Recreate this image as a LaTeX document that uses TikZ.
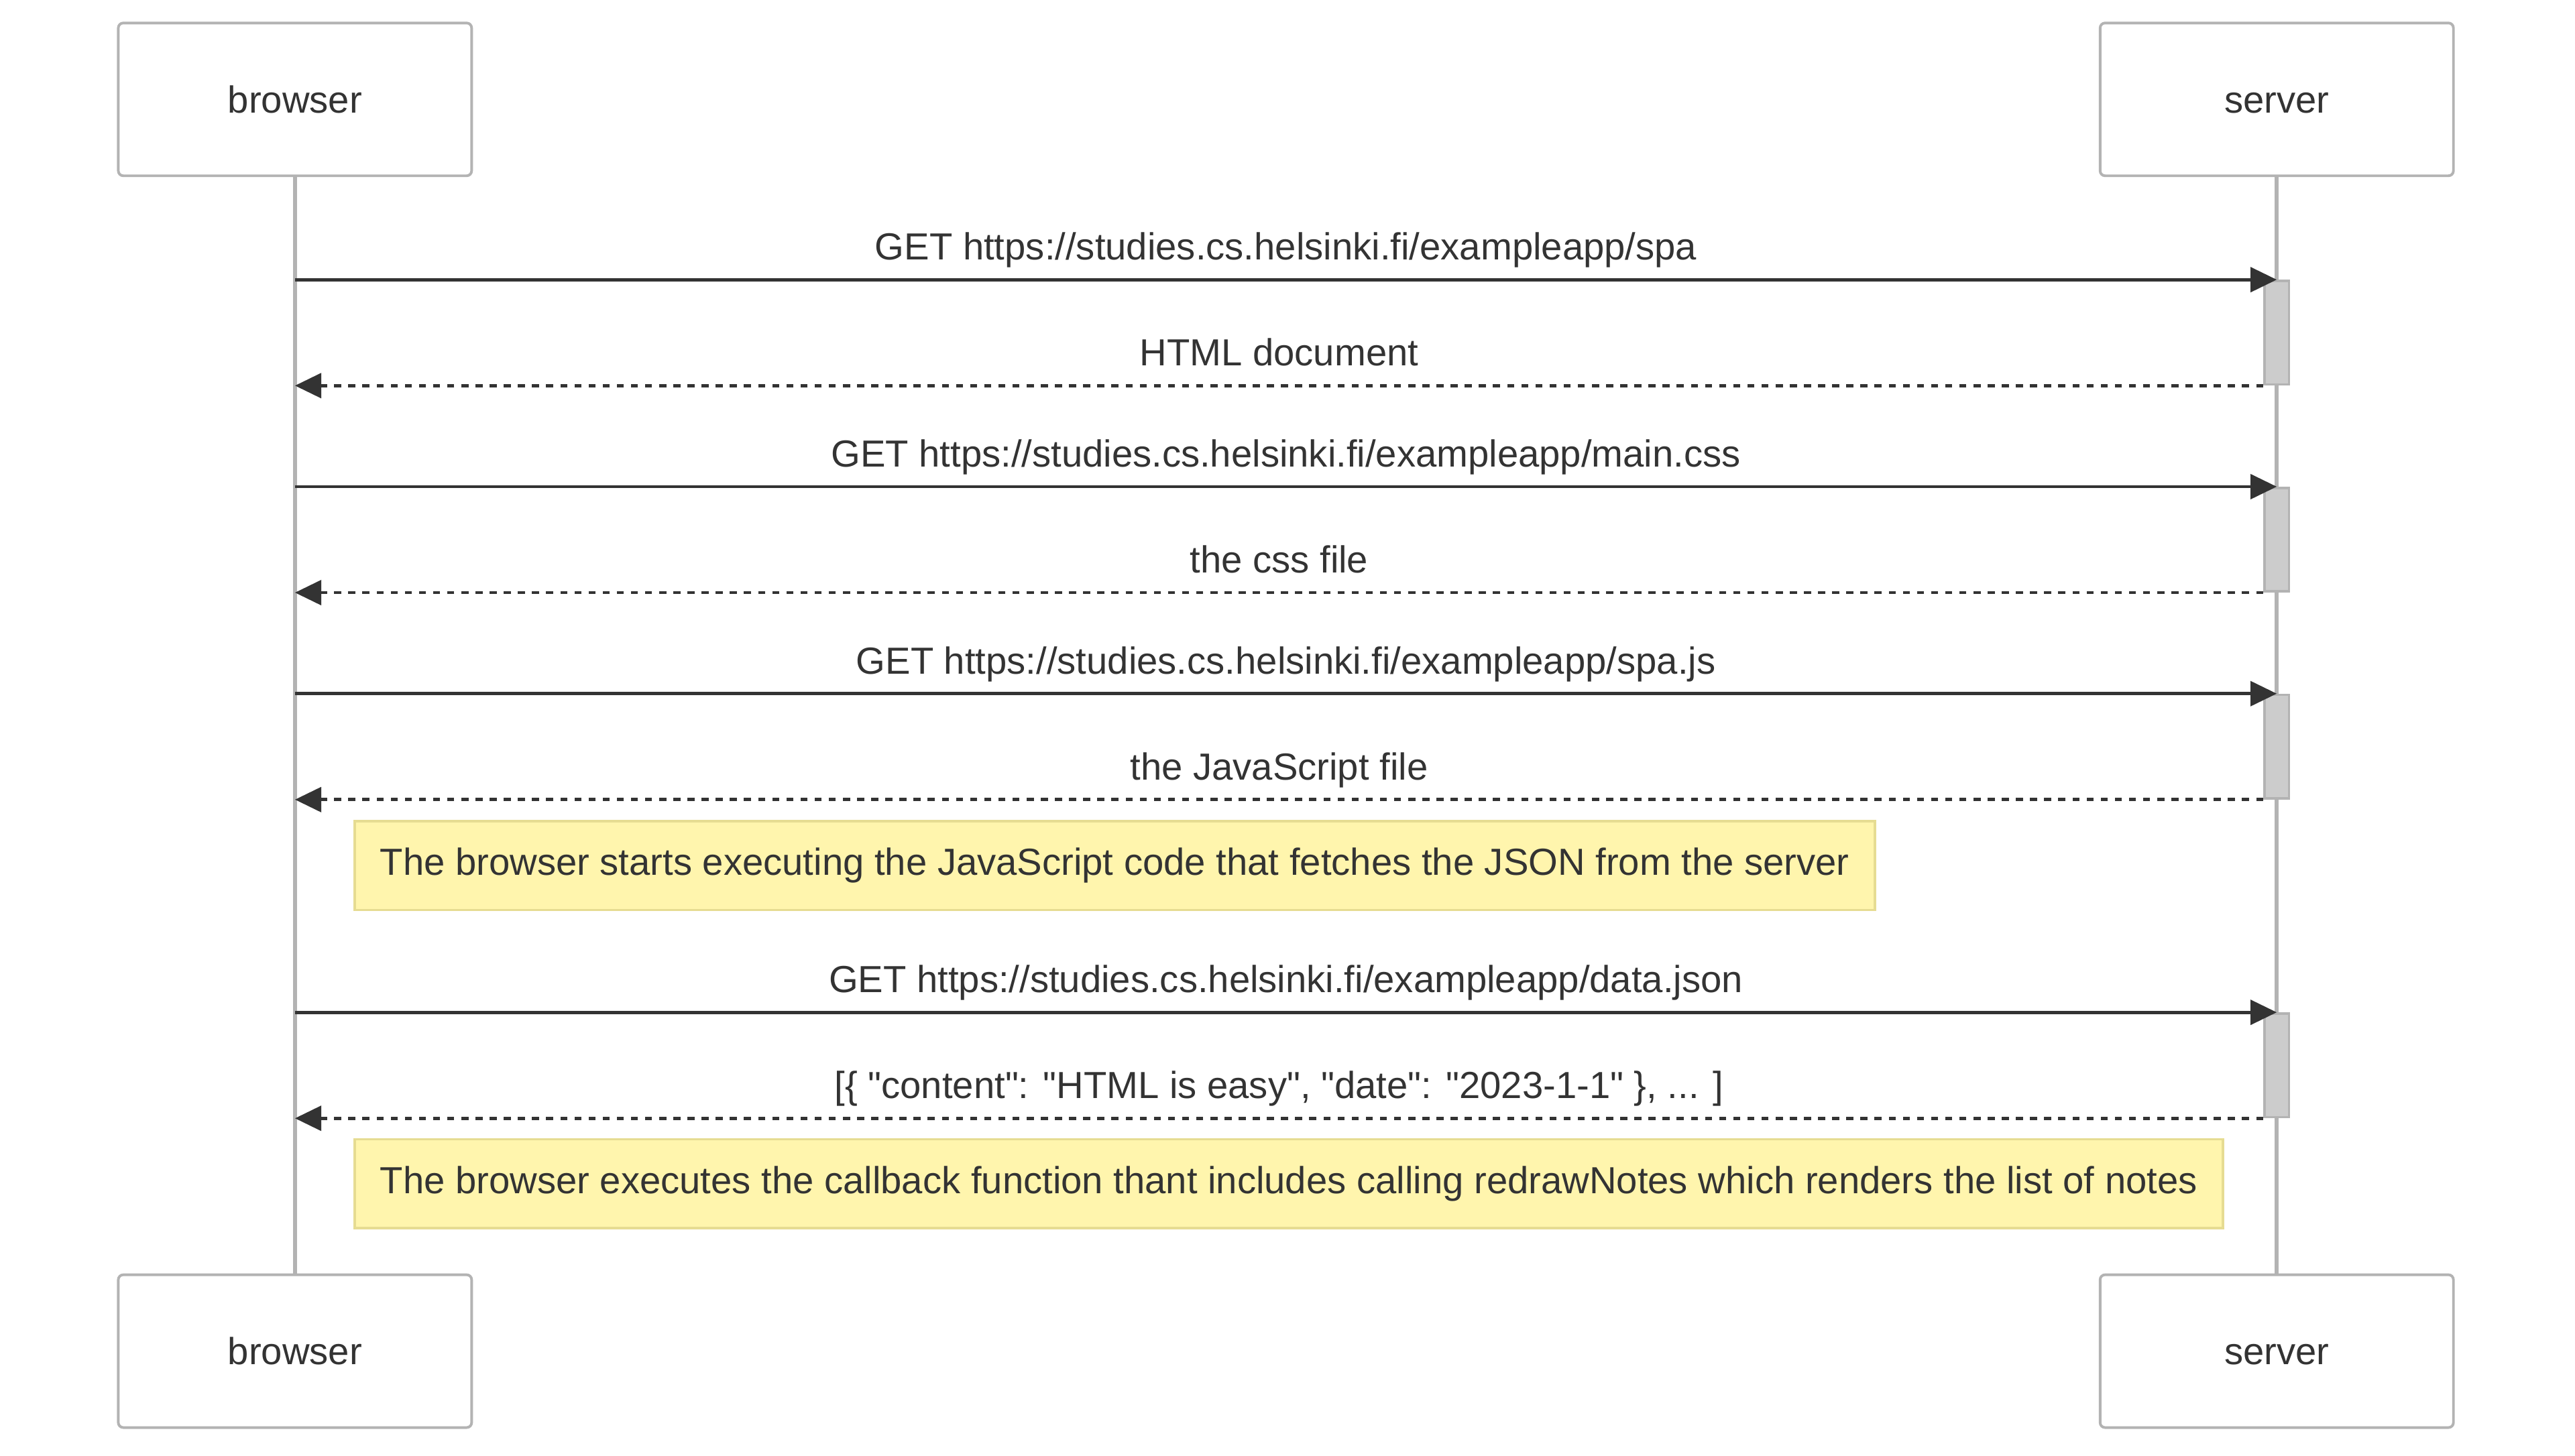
\documentclass[tikz,border=0pt]{standalone}
\usepackage{fontspec}
\setmainfont{Liberation Sans}
\usepackage{tikz}
\usetikzlibrary{arrows.meta}
\usepackage{xcolor}
\definecolor{txt}{HTML}{333333}
\definecolor{lineg}{HTML}{B3B3B3}
\definecolor{notefill}{HTML}{FFF5AD}
\definecolor{noteline}{HTML}{E6DC92}
\definecolor{actfill}{HTML}{CCCCCC}

\begin{document}
\begin{tikzpicture}[x=1bp,y=-1bp,
	every node/.style={font=\fontsize{22.95bp}{27bp}\selectfont, text=txt},
	actor/.style={draw=lineg, line width=1.6bp, rounded corners=3bp, fill=white, minimum width=215bp, minimum height=93bp, text height=21.6bp, text depth=5bp},
	lifeline/.style={draw=lineg, line width=2.4bp},
	actbar/.style={draw=lineg, fill=actfill, line width=1.5bp, minimum width=15bp, minimum height=63bp, inner sep=0pt},
	req/.style={draw=txt, line width=2bp, -{Triangle[length=16bp,width=15bp]}},
	reply/.style={req, dash pattern=on 4.3bp off 4.3bp},
	lbl/.style={above=11bp, inner sep=0pt, text depth=0pt},
	note/.style={draw=noteline, fill=notefill, line width=1.5bp, anchor=west, minimum height=54bp, inner xsep=15.5bp}]
		\useasboundingbox (0,0) rectangle (1567,886);
		% participants
		\node[actor] (b1) at (179.5,60.5) {browser};
		\node[actor] (s1) at (1385.5,60.5) {server};
		\node[actor] (b2) at (179.5,822.5) {browser};
		\node[actor] (s2) at (1385.5,822.5) {server};
		\draw[lifeline] (b1) -- (b2);
		\draw[lifeline] (s1) -- (s2);
		% activations on the server
		\node[actbar] (a1) at (1385.5,202.5) {};
		\node[actbar] (a2) at (1385.5,328.5) {};
		\node[actbar] (a3) at (1385.5,454.5) {};
		\node[actbar] (a4) at (1385.5,648.5) {};
		% messages
		\draw[req] (b1 |- a1.north) -- node[lbl] {GET https://studies.cs.helsinki.fi/exampleapp/spa} (a1.north);
		\draw[reply] (a1.south west) -- node[lbl] {HTML document} (b1 |- a1.south);
		\draw[req] (b1 |- a2.north) -- node[lbl] {GET https://studies.cs.helsinki.fi/exampleapp/main.css} (a2.north);
		\draw[reply] (a2.south west) -- node[lbl] {the css file} (b1 |- a2.south);
		\draw[req] (b1 |- a3.north) -- node[lbl] {GET https://studies.cs.helsinki.fi/exampleapp/spa.js} (a3.north);
		\draw[reply] (a3.south west) -- node[lbl] {the JavaScript file} (b1 |- a3.south);
		\node[note] (n1) at (215,527) {The browser starts executing the JavaScript code that fetches the JSON from the server};
		\draw[req] (b1 |- a4.north) -- node[lbl] {GET https://studies.cs.helsinki.fi/exampleapp/data.json} (a4.north);
		\draw[reply] (a4.south west) -- node[lbl] {[\{ \textquotedbl content\textquotedbl: \textquotedbl HTML is easy\textquotedbl, \textquotedbl date\textquotedbl: \textquotedbl 2023-1-1\textquotedbl{} \}, ... ]} (b1 |- a4.south);
		\node[note] (n2) at (215,720.5) {The browser executes the callback function thant includes calling redrawNotes which renders the list of notes};
	\end{tikzpicture}
\end{document}
